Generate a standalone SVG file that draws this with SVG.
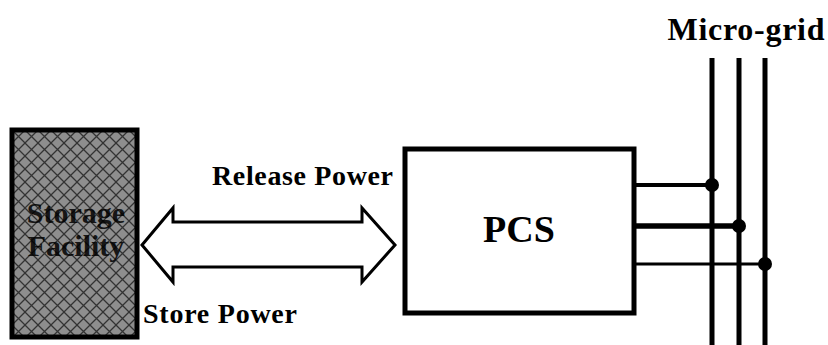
<svg xmlns="http://www.w3.org/2000/svg" width="828" height="345" viewBox="0 0 828 345">
<defs>
<pattern id="hatch" patternUnits="userSpaceOnUse" width="13" height="13" x="12" y="130">
<rect width="13" height="13" fill="#8e8e8e"/>
<path d="M0,0 L13,13 M13,0 L0,13" stroke="#333" stroke-width="1.3" fill="none"/>
</pattern>
</defs>
<style>
text{font-family:'Liberation Serif','Times New Roman',Times,serif;font-weight:700;fill:#000}
.box{fill:#fff;stroke:#000;stroke-width:5}
.bus{stroke:#000;stroke-width:5;fill:none}
.tap{stroke:#000;fill:none}
</style>
<rect width="828" height="345" fill="#fff"/>
<g id="storage">
<rect x="12" y="130" width="125" height="207" fill="url(#hatch)" stroke="#000" stroke-width="5"/>
<text x="76" y="223" font-size="30" text-anchor="middle" fill-opacity="0.85">Storage</text>
<text x="76" y="256" font-size="30" text-anchor="middle" fill-opacity="0.85">Facility</text>
</g>
<g id="pcs">
<rect class="box" x="405" y="149" width="229" height="164"/>
<text x="519" y="242" font-size="38" text-anchor="middle">PCS</text>
</g>
<g id="microgrid">
<text x="746" y="40" font-size="32" text-anchor="middle" textLength="157">Micro-grid</text>
<line class="bus" x1="712" y1="58" x2="712" y2="345"/>
<line class="bus" x1="739" y1="58" x2="739" y2="345"/>
<line class="bus" x1="765" y1="58" x2="765" y2="345"/>
</g>
<g id="connectors">
<path d="M142,245 L173,208 L173,222 L362,222 L362,208 L395,245 L362,282 L362,267 L173,267 L173,282 Z" fill="#fff" stroke="#000" stroke-width="3" stroke-linejoin="miter"/>
<text x="212" y="185" font-size="28" textLength="181">Release Power</text>
<text x="143" y="323" font-size="28" textLength="154">Store Power</text>
<line class="tap" x1="634" y1="185" x2="712" y2="185" stroke-width="4"/>
<line class="tap" x1="634" y1="226" x2="739" y2="226" stroke-width="5.5"/>
<line class="tap" x1="634" y1="264" x2="765" y2="264" stroke-width="3"/>
<circle cx="712" cy="185" r="7"/>
<circle cx="739" cy="226" r="7"/>
<circle cx="765" cy="264" r="7"/>
</g>
</svg>
